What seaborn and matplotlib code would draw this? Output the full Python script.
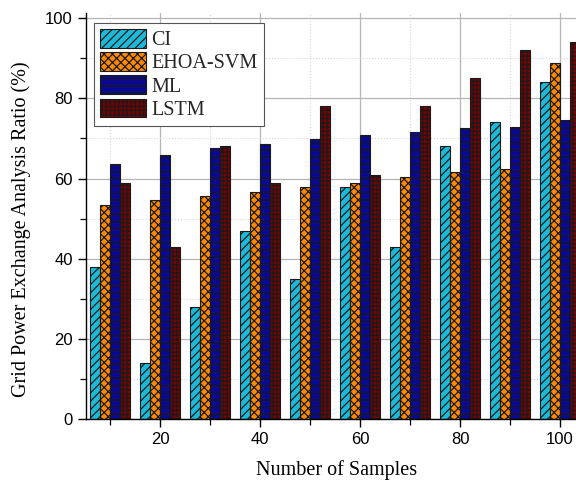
import numpy as np
import pandas as pd
import seaborn as sns
import matplotlib.pyplot as plt
from matplotlib.patches import Patch
from matplotlib.ticker import MultipleLocator

# Grid power exchange analysis ratio (%) by number of samples
samples = [10, 20, 30, 40, 50, 60, 70, 80, 90, 100]
methods = ["CI", "EHOA-SVM", "ML", "LSTM"]
ci = [38, 14, 28, 47, 35, 58, 43, 68, 74, 84]
ehoa_svm = [53.5, 54.7, 55.6, 56.6, 57.8, 58.8, 60.5, 61.7, 62.4, 88.9]
ml = [63.6, 65.8, 67.7, 68.6, 69.8, 70.8, 71.5, 72.7, 72.9, 74.5]
lstm = [59, 43, 68, 59, 78, 61, 78, 85, 92, 94]

colors = ["#1db9d9", "#ff8a00", "#0000c8", "#7c0000"]
hatches = ["////", "xxxx", "------", "++++"]

df = pd.DataFrame({
    "samples": samples * 4,
    "ratio": ci + ehoa_svm + ml + lstm,
    "method": sum([[m] * len(samples) for m in methods], []),
})

sns.set_theme(style="ticks")
plt.rcParams["font.family"] = ["Liberation Sans", "DejaVu Sans"]
plt.rcParams["hatch.linewidth"] = 0.9
serif = ["Liberation Serif", "DejaVu Serif"]

fig = plt.figure(figsize=(5.76, 4.82), dpi=100)
ax = fig.add_axes([86 / 576, 1 - 419 / 482, (610 - 86) / 576, (419 - 13) / 482])

sns.barplot(data=df, x="samples", y="ratio", hue="method", hue_order=methods,
            native_scale=True, palette=dict(zip(methods, colors)), saturation=1,
            width=0.8, edgecolor="#1a1a1a", linewidth=0.8, errorbar=None,
            legend=False, ax=ax)

for cont, h in zip(ax.containers, hatches):
    for bar in cont:
        bar.set_hatch(h)
        bar.set_edgecolor("#1a1a1a")

ax.set_xlim(5.2, 5.2 + (610 - 86) / 5)
ax.set_ylim(0, 101.3)
ax.xaxis.set_major_locator(MultipleLocator(20))
ax.xaxis.set_minor_locator(MultipleLocator(10))
ax.yaxis.set_major_locator(MultipleLocator(20))
ax.yaxis.set_minor_locator(MultipleLocator(10))

ax.set_axisbelow(True)
ax.grid(which="major", color="#b5b5b5", lw=0.9, ls="-")
ax.grid(which="minor", color="#d5d5d5", lw=0.8, ls=":")

for s in ["top", "right"]:
    ax.spines[s].set_visible(False)
for s in ["left", "bottom"]:
    ax.spines[s].set_color("black")
    ax.spines[s].set_linewidth(1.0)

ax.tick_params(which="major", direction="out", length=6, width=1,
               color="black", labelcolor="black", labelsize=12)
ax.tick_params(which="minor", direction="out", length=4, width=0.9, color="black")

ax.set_xlabel("Number of Samples", fontsize=14.5, family=serif, color="black", labelpad=9)
ax.set_ylabel("Grid Power Exchange Analysis Ratio (%)", fontsize=14.5, family=serif,
              color="black", labelpad=10)
ax.xaxis.label.set_x(0.478)
ax.yaxis.label.set_y(0.467)

handles = [Patch(facecolor=c, edgecolor="#1a1a1a", hatch=h, label=m, lw=0.8)
           for m, c, h in zip(methods, colors, hatches)]
leg = ax.legend(handles=handles, loc="upper left",
                bbox_to_anchor=((94 - 86) / 524, 1 - (23 - 13) / 406),
                borderaxespad=0, prop={"family": serif, "size": 14.5},
                handlelength=2.3, handleheight=1.05, labelspacing=0.1,
                handletextpad=0.25, borderpad=0.3, fancybox=False,
                frameon=True, edgecolor="#555555", framealpha=1)
leg.get_frame().set_linewidth(0.8)

fig.savefig("out.png", dpi=100)
